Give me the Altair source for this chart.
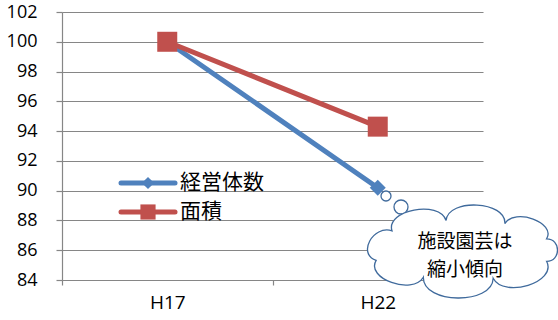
import altair as alt
import pandas as pd
import numpy as np

# ---- data ----
years = ["H17", "H22"]
series_names = ["経営体数", "面積"]
keiei = [100.0, 90.2]
menseki = [100.0, 94.3]
y_ticks = list(range(84, 103, 2))
note_lines = ["施設園芸は", "縮小傾向"]

# ---- style ----
colors = ["#4F81BD", "#C0504D"]
shapes = ["diamond", "square"]
marker_sizes = [256, 400]
legend_marker_sizes = [150, 230]
cloud_stroke = "#3F6A9C"
grid_color = "#868686"
W, H = 421, 268
PAD_L, PAD_T = 62, 12
LABEL_FONT = "Open Sans"

df = pd.DataFrame({
    "year": years * 2,
    "series": [series_names[0]] * len(years) + [series_names[1]] * len(years),
    "value": keiei + menseki,
})

half_step = W / 4.0

x_enc = alt.X(
    "year:N", sort=years,
    scale=alt.Scale(type="point", domain=years, padding=0.5),
    axis=alt.Axis(title=None, tickOffset=-half_step, labelOffset=half_step,
                  grid=False, labelPadding=8, tickSize=5, labelAngle=0,
                  labelFont=LABEL_FONT, labelFontSize=19, labelColor="#000000"),
)
y_enc = alt.Y(
    "value:Q",
    scale=alt.Scale(domain=[84, 102], nice=False, zero=False),
    axis=alt.Axis(values=y_ticks, title=None, grid=True, tickSize=6,
                  labelPadding=19, format="d",
                  labelFont=LABEL_FONT, labelFontSize=18, labelColor="#000000"),
)

layers = []
for i, name in enumerate(series_names):
    sub = alt.Chart(df).transform_filter(alt.datum.series == name)
    layers.append(sub.mark_line(color=colors[i], strokeWidth=5, strokeCap="round",
                                strokeJoin="round").encode(x=x_enc, y=y_enc))
    layers.append(sub.mark_point(shape=shapes[i], filled=True, color=colors[i],
                                 opacity=1, size=marker_sizes[i]).encode(x=x_enc, y=y_enc))

# ---- cloud callout shape (svg path in normalized symbol units) ----
def cloud_path(target_w=190.0, target_h=93.0, s=100.0):
    a, b = 80.0, 34.0
    angs = np.deg2rad([22, 62, 100, 140, 200, 245, 290, 338])
    pts = np.array([(a * np.cos(t), -b * np.sin(t)) for t in angs])
    n = len(pts)
    k = 0.5
    segs = []
    for i in range(n):
        p1 = pts[i]
        p2 = pts[(i + 1) % n]
        d = p2 - p1
        L = float(np.hypot(*d))
        nrm = np.array([d[1], -d[0]]) / L
        mid = (p1 + p2) / 2
        if np.dot(nrm, mid) < 0:
            nrm = -nrm
        segs.append((p1, p1 + nrm * k * L, p2 + nrm * k * L, p2))
    tt = np.linspace(0, 1, 60)[:, None]
    samples = np.vstack([
        (1 - tt) ** 3 * p0 + 3 * (1 - tt) ** 2 * tt * c1 + 3 * (1 - tt) * tt ** 2 * c2 + tt ** 3 * p3
        for p0, c1, c2, p3 in segs
    ])
    mn = samples.min(axis=0)
    mx = samples.max(axis=0)
    ctr = (mn + mx) / 2
    sc = np.array([target_w / (mx[0] - mn[0]), target_h / (mx[1] - mn[1])])

    def tf(p):
        q = (p - ctr) * sc / s
        return f"{q[0]:.4f},{q[1]:.4f}"

    parts = ["M" + tf(segs[0][0])]
    for p0, c1, c2, p3 in segs:
        parts.append("C" + tf(c1) + " " + tf(c2) + " " + tf(p3))
    parts.append("Z")
    return "".join(parts)

one = pd.DataFrame({"k": [0]})
anno = alt.Chart(one)

bubble1 = anno.mark_point(shape="circle", filled=True, fill="white", stroke=cloud_stroke,
                          strokeWidth=1.3, opacity=1, size=100).encode(
    x=alt.value(386 - PAD_L), y=alt.value(196 - PAD_T))
bubble2 = anno.mark_point(shape="circle", filled=True, fill="white", stroke=cloud_stroke,
                          strokeWidth=1.3, opacity=1, size=196).encode(
    x=alt.value(401 - PAD_L), y=alt.value(207 - PAD_T))
cloud = anno.mark_point(shape=cloud_path(), filled=True, fill="white", stroke=cloud_stroke,
                        strokeWidth=1.3, opacity=1, size=40000).encode(
    x=alt.value(462.5 - PAD_L), y=alt.value(251.5 - PAD_T))
note = anno.mark_text(text="\n".join(note_lines), lineBreak="\n", lineHeight=28,
                      font="Noto Sans CJK JP", fontSize=19, color="#000000",
                      align="center", baseline="middle").encode(
    x=alt.value(465 - PAD_L), y=alt.value(242 - PAD_T))

# ---- manual legend ----
leg_layers = []
for i, name in enumerate(series_names):
    yy = 183 - PAD_T + 29 * i
    leg_layers.append(anno.mark_rule(color=colors[i], strokeWidth=5, strokeCap="round").encode(
        x=alt.value(121 - PAD_L), x2=alt.value(175 - PAD_L), y=alt.value(yy)))
    leg_layers.append(anno.mark_point(shape=shapes[i], filled=True, color=colors[i], opacity=1,
                                      size=legend_marker_sizes[i]).encode(
        x=alt.value(148 - PAD_L), y=alt.value(yy)))
    leg_layers.append(anno.mark_text(text=name, font="Noto Sans CJK JP", fontSize=21,
                                     color="#000000", align="left", baseline="middle").encode(
        x=alt.value(180 - PAD_L), y=alt.value(yy)))

chart = alt.layer(*layers, bubble1, bubble2, cloud, note, *leg_layers).properties(
    width=W, height=H,
    autosize=alt.AutoSizeParams(type="none"),
    padding={"left": PAD_L, "top": PAD_T, "right": 558 - PAD_L - W, "bottom": 320 - PAD_T - H},
).configure_view(stroke=None).configure_axis(
    domainColor=grid_color, tickColor=grid_color, gridColor=grid_color,
    domainWidth=1.2, tickWidth=1.2, gridWidth=1.2, gridOpacity=1,
)

chart.save("out.html", embed_options={"renderer": "svg", "actions": False})
